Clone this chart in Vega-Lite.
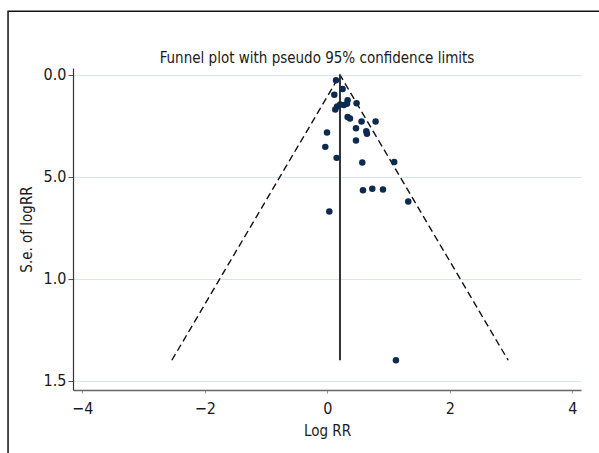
{
  "$schema": "https://vega.github.io/schema/vega-lite/v6.json",
  "autosize": "none",
  "width": 508,
  "height": 322,
  "padding": {"left": 73, "top": 68, "right": 18, "bottom": 63},
  "background": "white",
  "config": {
    "font": "DejaVu Sans Condensed",
    "view": {"stroke": null},
    "axis": {"labelFont": "DejaVu Sans Condensed", "titleFont": "DejaVu Sans Condensed", "labelFontSize": 16, "titleFontSize": 15, "titleFontWeight": "normal", "labelColor": "#1a1a1a", "titleColor": "#1a1a1a"}
  },
  "title": {"text": "Funnel plot with pseudo 95% confidence limits", "fontSize": 15, "fontWeight": "normal", "font": "DejaVu Sans Condensed", "color": "#1a1a1a", "anchor": "middle", "frame": "group", "dx": -10, "offset": -55},
  "datasets": {
    "frame": [{"x1": -5.21, "x2": 4.9, "y1": -0.312, "y2": 1.95}],
    "funnel": [
      {"x": -2.537, "se": 1.4, "o": 1},
      {"x": 0.207, "se": 0.0, "o": 2},
      {"x": 2.951, "se": 1.4, "o": 3}
    ],
    "pooled": [{"x": 0.207, "se0": 0.0, "se1": 1.4}],
    "studies": [
      {"logRR": 0.142, "se": 0.026},
      {"logRR": 0.25, "se": 0.069},
      {"logRR": 0.114, "se": 0.097},
      {"logRR": 0.331, "se": 0.124},
      {"logRR": 0.321, "se": 0.141},
      {"logRR": 0.478, "se": 0.139},
      {"logRR": 0.27, "se": 0.148},
      {"logRR": 0.21, "se": 0.145},
      {"logRR": 0.16, "se": 0.155},
      {"logRR": 0.13, "se": 0.17},
      {"logRR": 0.331, "se": 0.206},
      {"logRR": 0.37, "se": 0.214},
      {"logRR": 0.559, "se": 0.229},
      {"logRR": 0.788, "se": 0.229},
      {"logRR": 0.468, "se": 0.262},
      {"logRR": -0.005, "se": 0.283},
      {"logRR": 0.636, "se": 0.276},
      {"logRR": 0.647, "se": 0.289},
      {"logRR": 0.468, "se": 0.322},
      {"logRR": -0.033, "se": 0.353},
      {"logRR": 0.152, "se": 0.407},
      {"logRR": 0.571, "se": 0.43},
      {"logRR": 1.092, "se": 0.427},
      {"logRR": 0.582, "se": 0.566},
      {"logRR": 0.734, "se": 0.559},
      {"logRR": 0.908, "se": 0.562},
      {"logRR": 1.321, "se": 0.621},
      {"logRR": 0.033, "se": 0.67},
      {"logRR": 1.12, "se": 1.4}
    ]
  },
  "layer": [
    {
      "data": {"name": "frame"},
      "mark": {"type": "rect", "fill": null, "fillOpacity": 0, "stroke": "#111", "strokeWidth": 1.5, "clip": false},
      "encoding": {
        "x": {"field": "x1", "type": "quantitative", "scale": {"domain": [-4.15, 4.14], "nice": false, "zero": false}, "axis": {"title": "Log RR", "values": [-4, -2, 0, 2, 4], "format": "d", "grid": false, "domainColor": "#666", "domainWidth": 1.5, "tickColor": "#999", "tickSize": 3, "labelPadding": 7, "titlePadding": 7}},
        "x2": {"field": "x2"},
        "y": {"field": "y1", "type": "quantitative", "scale": {"domain": [-0.034, 1.546], "reverse": true, "nice": false, "zero": false}, "axis": {"title": "S.e. of logRR", "values": [0, 0.5, 1, 1.5], "labelExpr": "datum.value == 0.5 ? '5.0' : format(datum.value, '.1f')", "grid": true, "gridColor": "#d6e6ec", "gridWidth": 1.2, "domainColor": "#333", "domainWidth": 1.2, "tickColor": "#555", "tickSize": 5, "labelPadding": 2, "titlePadding": 9}},
        "y2": {"field": "y2"}
      }
    },
    {
      "data": {"name": "funnel"},
      "mark": {"type": "line", "color": "#111", "strokeWidth": 1.4, "strokeDash": [7, 4]},
      "encoding": {
        "x": {"field": "x", "type": "quantitative"},
        "y": {"field": "se", "type": "quantitative"},
        "order": {"field": "o"}
      }
    },
    {
      "data": {"name": "pooled"},
      "mark": {"type": "rule", "color": "#333", "strokeWidth": 2},
      "encoding": {
        "x": {"field": "x", "type": "quantitative"},
        "y": {"field": "se0", "type": "quantitative"},
        "y2": {"field": "se1"}
      }
    },
    {
      "data": {"name": "studies"},
      "mark": {"type": "circle", "color": "#0e2a50", "opacity": 1, "size": 42},
      "encoding": {
        "x": {"field": "logRR", "type": "quantitative"},
        "y": {"field": "se", "type": "quantitative"}
      }
    }
  ]
}
